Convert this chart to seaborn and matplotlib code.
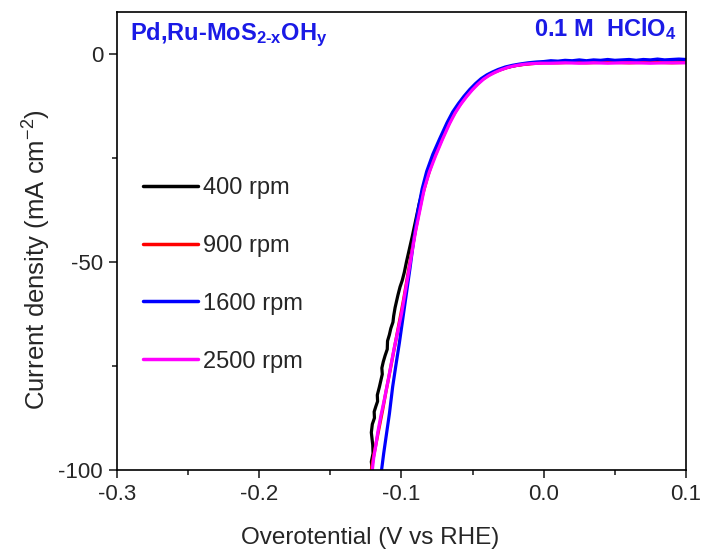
import numpy as np
import pandas as pd
import matplotlib
matplotlib.use('Agg')
import matplotlib.pyplot as plt
import seaborn as sns
from matplotlib.ticker import MultipleLocator

# LSV curves: overpotential (V vs RHE), current density (mA cm-2)
e_400 = [-0.1205, -0.1212, -0.1200, -0.1202, -0.1212, -0.1205, -0.1190, -0.1192, -0.1180,
         -0.1168, -0.1170, -0.1155, -0.1145, -0.1135, -0.1138, -0.1128, -0.1115, -0.1100,
         -0.1098, -0.1085, -0.1075, -0.1060, -0.1055, -0.1045, -0.1035, -0.1025, -0.1010,
         -0.0995, -0.0980, -0.0965, -0.0945, -0.0925, -0.0900, -0.0875, -0.0845, -0.0812,
         -0.0772, -0.0728, -0.0680, -0.0640, -0.0600, -0.0560, -0.0520, -0.0480, -0.0440,
         -0.0400, -0.0360, -0.0320, -0.0270, -0.0220, -0.0170, -0.0110, -0.0050,
         0.00, 0.01, 0.02, 0.03, 0.04, 0.05, 0.06, 0.07, 0.08, 0.09, 0.10]
j_400 = [-100, -98, -96, -94, -91, -89, -87.5, -86, -84.7,
         -83.5, -82, -80, -78.5, -77, -75.5, -74, -72.5, -71,
         -69, -67.5, -66, -64.5, -63, -61, -59.5, -58, -56,
         -54.5, -52.5, -50, -47, -44, -40, -36, -32, -28.5,
         -24.7, -21, -17.2, -14.4, -12.3, -10.5, -8.9, -7.5, -6.3,
         -5.3, -4.6, -4.0, -3.4, -3.0, -2.7, -2.4, -2.2,
         -2.1, -2.0, -2.1, -1.9, -2.0, -1.9, -2.0, -1.9, -1.9, -2.0, -1.9]

e_900 = [-0.1212, -0.1195, -0.1175, -0.1155, -0.1132, -0.1108, -0.1085, -0.1060, -0.1035,
         -0.1010, -0.0985, -0.0960, -0.0935, -0.0910, -0.0882, -0.0852, -0.0820, -0.0782,
         -0.0736, -0.0688, -0.0642, -0.0602, -0.0562, -0.0522, -0.0482, -0.0442, -0.0402,
         -0.0362, -0.0322, -0.0272, -0.0222, -0.0170, -0.0110, -0.0050,
         0.00, 0.01, 0.02, 0.03, 0.04, 0.05, 0.06, 0.07, 0.08, 0.09, 0.10]
j_900 = [-100, -96.5, -93, -89.5, -85.5, -81, -77, -72.5, -68,
         -63.5, -59, -54, -49, -44, -39, -34, -30, -26,
         -22.2, -18.4, -15.2, -12.9, -11.0, -9.3, -7.8, -6.5, -5.5,
         -4.7, -4.1, -3.5, -3.0, -2.7, -2.5, -2.3,
         -2.2, -2.2, -2.1, -2.2, -2.1, -2.1, -2.2, -2.1, -2.1, -2.2, -2.1]

e_1600 = [-0.1140, -0.1125, -0.1104, -0.1085, -0.1062, -0.1040, -0.1015, -0.0990, -0.0965,
          -0.0940, -0.0915, -0.0886, -0.0855, -0.0823, -0.0780, -0.0731, -0.0680, -0.0640,
          -0.0600, -0.0560, -0.0520, -0.0480, -0.0440, -0.0400, -0.0360, -0.0320, -0.0270,
          -0.0220, -0.0170, -0.0110, -0.0050,
          0.000, 0.005, 0.010, 0.015, 0.020, 0.025, 0.030, 0.035, 0.040, 0.045, 0.050,
          0.055, 0.060, 0.065, 0.070, 0.075, 0.080, 0.085, 0.090, 0.095, 0.100]
j_1600 = [-100, -96, -91, -86.5, -80, -75, -69.5, -63.5, -57.5,
          -51.5, -45, -38, -32.5, -28.3, -24.2, -20.4, -16.6, -14.0,
          -12.0, -10.2, -8.6, -7.2, -6.0, -5.1, -4.4, -3.8, -3.2,
          -2.8, -2.5, -2.2, -2.0,
          -1.9, -1.7, -1.8, -1.6, -1.7, -1.5, -1.7, -1.5, -1.6, -1.4, -1.6,
          -1.5, -1.4, -1.6, -1.4, -1.5, -1.3, -1.5, -1.4, -1.3, -1.4]

e_2500 = [-0.1205, -0.1195, -0.1180, -0.1167, -0.1145, -0.1120, -0.1097, -0.1075, -0.1050,
          -0.1025, -0.1000, -0.0975, -0.0950, -0.0925, -0.0900, -0.0870, -0.0840, -0.0805,
          -0.0760, -0.0712, -0.0662, -0.0622, -0.0582, -0.0542, -0.0502, -0.0462, -0.0422,
          -0.0382, -0.0342, -0.0302, -0.0252, -0.0202, -0.0150, -0.0090, -0.0030,
          0.005, 0.015, 0.025, 0.035, 0.045, 0.055, 0.065, 0.075, 0.085, 0.095, 0.100]
j_2500 = [-100, -97, -94, -91, -87, -83, -79, -75, -70.5,
          -66.5, -62.5, -57.5, -52.5, -47.5, -42.5, -37.5, -32.5, -28.5,
          -24.5, -20.6, -16.8, -14.2, -12.1, -10.3, -8.7, -7.3, -6.1,
          -5.2, -4.5, -3.9, -3.3, -2.9, -2.6, -2.4, -2.3,
          -2.3, -2.2, -2.3, -2.2, -2.3, -2.2, -2.2, -2.3, -2.2, -2.2, -2.2]

labels = ['400 rpm', '900 rpm', '1600 rpm', '2500 rpm']
colors = ['#000000', '#ff0000', '#0000ff', '#ff00ff']
xticks = [-0.3, -0.2, -0.1, 0.0, 0.1]
xticklabels = ['-0.3', '-0.2', '-0.1', '0.0', '0.1']

frames = []
for lab, e, j in zip(labels, [e_400, e_900, e_1600, e_2500], [j_400, j_900, j_1600, j_2500]):
    frames.append(pd.DataFrame({'E': e, 'j': j, 'speed': lab}))
df = pd.concat(frames, ignore_index=True)

sns.set_style('ticks')
plt.rcParams['font.family'] = ['Liberation Sans', 'DejaVu Sans']
plt.rcParams['axes.unicode_minus'] = False
plt.rcParams['mathtext.default'] = 'regular'

fig = plt.figure(figsize=(7.03, 5.54), dpi=100)
ax = fig.add_axes([0.1664, 0.1516, 0.8094, 0.8267])

sns.lineplot(data=df, x='E', y='j', hue='speed', hue_order=labels,
             palette=colors, sort=False, estimator=None, lw=2.3, ax=ax)

ax.set_xlim(-0.3, 0.1)
ax.set_ylim(-100, 10)
ax.xaxis.set_minor_locator(MultipleLocator(0.05))
ax.yaxis.set_major_locator(MultipleLocator(50))
ax.yaxis.set_minor_locator(MultipleLocator(25))
ax.set_xticks(xticks)
ax.set_xticklabels(xticklabels)
ax.tick_params(which='major', direction='out', length=6, width=1.2, labelsize=16, pad=4)
ax.tick_params(which='minor', direction='out', length=3.5, width=1.2)
for s in ax.spines.values():
    s.set_linewidth(1.2)
    s.set_color('black')

ax.set_xlabel('Overotential (V vs RHE)', fontsize=17.5)
ax.xaxis.set_label_coords(0.445, -0.125)
ax.set_ylabel('Current density (mA cm$^{-2}$)', fontsize=18.5)
ax.yaxis.set_label_coords(-0.112, 0.46)

ax.text(0.023, 0.939, 'Pd,Ru-MoS$_{2\u2010x}$OH$_y$', transform=ax.transAxes,
        color='#1a1ae6', fontsize=17, fontweight='bold', ha='left', va='baseline')
ax.text(0.984, 0.948, '0.1 M  HClO$_4$', transform=ax.transAxes,
        color='#1a1ae6', fontsize=17, fontweight='bold', ha='right', va='baseline')

leg = ax.legend(loc='upper left', bbox_to_anchor=(0.0457, 0.640), frameon=False,
                fontsize=17, handlelength=2.33, handletextpad=0.22,
                labelspacing=1.52, borderpad=0, borderaxespad=0)
for h in leg.get_lines():
    h.set_linewidth(2.5)

fig.savefig('out.png', dpi=100)
